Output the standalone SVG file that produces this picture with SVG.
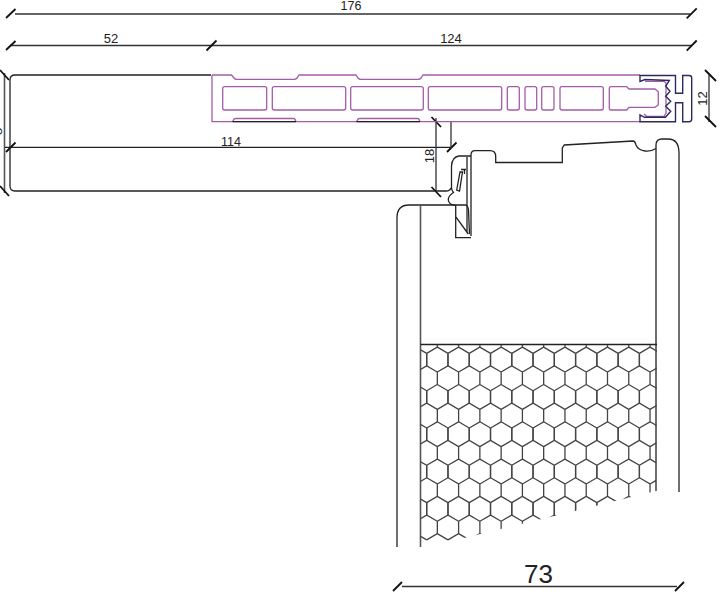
<svg xmlns="http://www.w3.org/2000/svg" width="720" height="602" viewBox="0 0 720 602">
<style>
text{font-family:"Liberation Sans",Arial,sans-serif;fill:#222}
.k{fill:none;stroke:#222;stroke-width:1.3}
.g{fill:none;stroke:#555;stroke-width:1.6}
.d{fill:none;stroke:#333;stroke-width:1.3}
.t{fill:none;stroke:#111;stroke-width:1.8}
.p{fill:none;stroke:#a45ca8;stroke-width:1.3}
.n{fill:none;stroke:#2c2a5e;stroke-width:1.4}
</style>
<defs>
<path id="cell" d="M0 0V12.43L10.63 18.65V31.08L0 37.3M10.63 31.08L21.27 37.3M21.27 0V12.43L10.63 18.65" fill="none" stroke="#444" stroke-width="1.3"/>
<g id="hexrow">
<use href="#cell" x="0"/><use href="#cell" x="21.27"/><use href="#cell" x="42.54"/><use href="#cell" x="63.81"/><use href="#cell" x="85.08"/><use href="#cell" x="106.35"/><use href="#cell" x="127.62"/><use href="#cell" x="148.89"/><use href="#cell" x="170.16"/><use href="#cell" x="191.43"/><use href="#cell" x="212.7"/><use href="#cell" x="233.97"/>
</g>
<clipPath id="core"><polygon points="420.5,345 657,345 656,491 427,547 420.5,547"/></clipPath>
</defs>
<rect width="720" height="602" fill="#fff"/>
<g id="connectors">
<path class="d" d="M15 14H690M10 45.5H691"/>
<path class="t" d="M6 18L15.500 9M6 50L15.500 41M206.500 50.500L216.500 40.500M686.700 18.300L696.700 8.300M686.700 50.700L696.700 40.500"/>
<path class="g" d="M4.500 73V193"/>
<path class="t" d="M0 70L9 80M0 186L9 196"/>
<path class="k" d="M5 147.300H451"/>
<path class="t" d="M6 152L15.500 142.500M447 152L456.500 142.500"/>
<path class="d" d="M436 118V192M451 122V148"/>
<path class="t" d="M431.500 117L441 127M431.500 187L441 197"/>
<path class="d" d="M709 75V122"/>
<path class="t" d="M705 70L716 81M705 116L716 127"/>
<path class="d" d="M402 586.500H677"/>
<path class="t" d="M393 591L402 582M675 591L684 582"/>
</g>
<g id="labels">
<text x="351" y="10" font-size="12.500" text-anchor="middle">176</text>
<text x="111" y="43" font-size="13" text-anchor="middle">52</text>
<text x="451" y="43" font-size="13" text-anchor="middle">124</text>
<text x="231" y="146" font-size="12.500" text-anchor="middle">114</text>
<text transform="translate(434 156) rotate(-90)" font-size="13" text-anchor="middle">18</text>
<text transform="translate(707 98.500) rotate(-90)" font-size="13" text-anchor="middle">12</text>
<text x="538.500" y="583" font-size="26" text-anchor="middle">73</text>
<text transform="translate(2 131.500) rotate(-90)" font-size="13" text-anchor="middle">8</text>
</g>
<g id="wall">
<path class="k" d="M211 75H15Q10 75 10 80V186Q10 191 15 191H446Q450 191 451 188"/>
</g>
<g id="frame-profile">
<path class="p" d="M212 75H231.500L234 78Q235 79.300 237 79.300H294Q296 79.300 297 78L299 75H356L358 78Q359 79.300 361 79.300H418Q420 79.300 421 78L423 75H640"/>
<path class="p" d="M212 75V121.700H640"/>
<path class="p" d="M232.500 121.700L234 119Q234.500 118.500 236 118.500H294Q295 118.500 296 121.700M356.500 121.700L358 119Q358.500 118.500 360 118.500H418Q419 118.500 420 121.700"/>
<path class="k" d="M232.500 121.700H296M356.500 121.700H420"/>
<g>
<rect class="p" x="222.700" y="86.700" width="44" height="23.300" rx="2"/>
<rect class="p" x="272.300" y="86.700" width="73.400" height="23.300" rx="2"/>
<rect class="p" x="350.700" y="86.700" width="72.600" height="23.300" rx="2"/>
<rect class="p" x="428.300" y="86.700" width="73.400" height="23.300" rx="2"/>
<rect class="p" x="507.300" y="86.700" width="12" height="23.300" rx="2"/>
<rect class="p" x="525" y="86.700" width="11.700" height="23.300" rx="2"/>
<rect class="p" x="541.700" y="86.700" width="12.300" height="23.300" rx="2"/>
<rect class="p" x="560" y="86.700" width="43.300" height="23.300" rx="2"/>
</g>
<path class="p" d="M611 86.700H626.700L629 89H655L658.300 91.700V105L655 107.300H629L626.700 110H611Q609.300 110 609.300 108V88.500Q609.300 86.700 611 86.700Z"/>
<path class="p" d="M645 81.300H664L666 83V113L664 116.500H647L644 114"/>
<path class="n" d="M640 75.500H675.500V93.300H682.700V75.500H689Q691.700 75.500 691.700 78V119Q691.700 121.700 689 121.700H682.700V102.700H675.500V121.700H640V115L644.500 117.300H665.500L670.700 111.300 665.700 106.300 670.700 101.300 665.700 96.300 670 91.300 665.700 86.300 669.300 80.500 645 79.500 640 81.500Z"/>
</g>
<g id="door">
<path class="k" d="M679 492V153Q679 139 668 139H662Q656 139 656 145V491"/>
<path class="k" d="M656 148.500Q650 152 645 151Q638 150 636 145Q635 141 633 141L564.300 145L562.300 148V162.500H495.700V156.500Q495.700 150.700 490 150.700H475Q471 150.700 471 155V236"/>
<path class="k" d="M397 547V218Q397 205 409 205H466Q468 206 468.500 210L469.500 234"/>
<path class="g" d="M420.500 205V547"/>
<path class="k" d="M455.700 205V237.700H471M455.700 216.700L468.300 234M467 157V233"/>
<path class="k" d="M471 156H459Q452 157 451.500 166V188Q451.500 190 453.500 192.500Q448 196 448.300 200Q449 205 455 205"/>
<path class="k" d="M456.700 190L460 172H462.500L459.500 191ZM461 169.500H466M464.500 169.500V174"/>
<path class="k" d="M420.500 344.500H657"/>
<g clip-path="url(#core)">
<use href="#hexrow" x="405.43" y="316.1"/><use href="#hexrow" x="405.43" y="353.4"/><use href="#hexrow" x="405.43" y="390.7"/><use href="#hexrow" x="405.43" y="428"/><use href="#hexrow" x="405.43" y="465.3"/><use href="#hexrow" x="405.43" y="502.6"/>
</g>
</g>
</svg>
